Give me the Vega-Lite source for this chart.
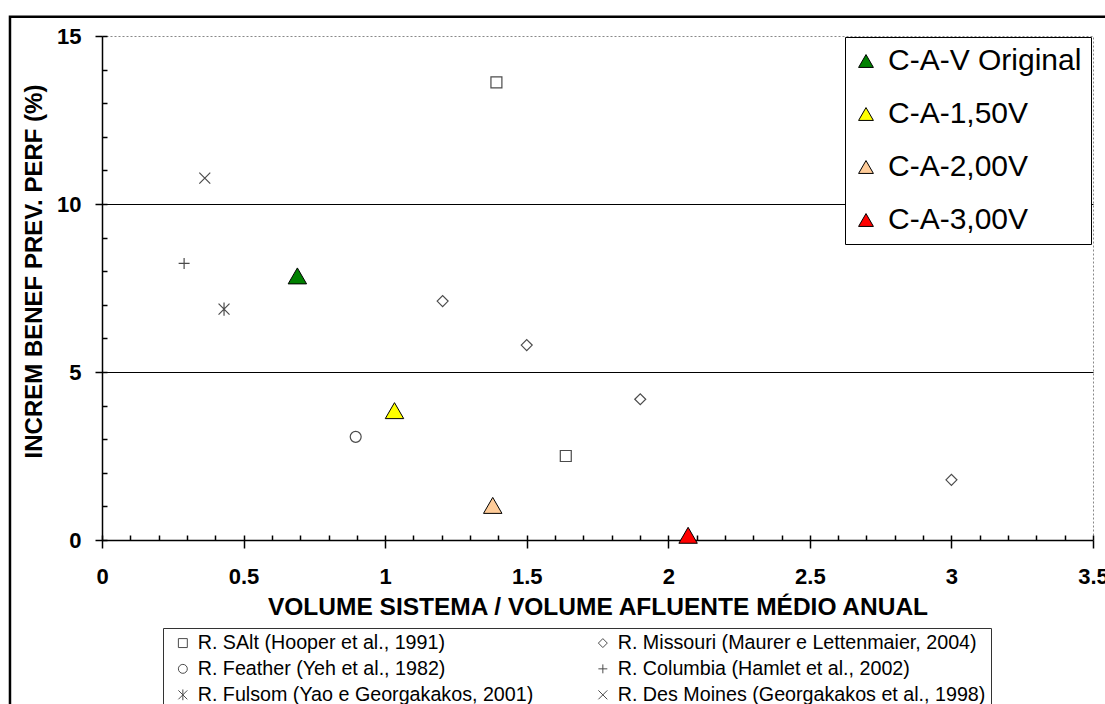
{
  "$schema": "https://vega.github.io/schema/vega-lite/v6.json",
  "width": 991,
  "height": 504,
  "autosize": {"type": "none"},
  "padding": {"left": 102, "top": 36, "right": 12, "bottom": 164},
  "background": "white",
  "config": {
    "font": "Liberation Sans",
    "view": {"stroke": "#888888", "strokeDash": [2, 2], "strokeWidth": 1},
    "axis": {
      "labelFont": "Liberation Sans",
      "labelFontWeight": "bold",
      "labelFontSize": 22,
      "labelColor": "black",
      "titleFont": "Liberation Sans",
      "titleFontWeight": "bold",
      "titleFontSize": 24,
      "titleColor": "black",
      "domainColor": "black",
      "domainWidth": 1.5,
      "tickColor": "black",
      "tickWidth": 1.5,
      "grid": false,
      "labelFlush": false,
      "labelOverlap": false
    }
  },
  "datasets": {
    "studies": [
      {"study": "R. SAlt (Hooper et al., 1991)", "v": 1.393, "b": 13.62},
      {"study": "R. SAlt (Hooper et al., 1991)", "v": 1.638, "b": 2.50},
      {"study": "R. Missouri (Maurer e Lettenmaier, 2004)", "v": 1.203, "b": 7.11},
      {"study": "R. Missouri (Maurer e Lettenmaier, 2004)", "v": 1.50, "b": 5.80},
      {"study": "R. Missouri (Maurer e Lettenmaier, 2004)", "v": 1.901, "b": 4.19},
      {"study": "R. Missouri (Maurer e Lettenmaier, 2004)", "v": 3.0, "b": 1.79},
      {"study": "R. Feather (Yeh et al., 1982)", "v": 0.896, "b": 3.07},
      {"study": "R. Columbia (Hamlet et al., 2002)", "v": 0.290, "b": 8.23},
      {"study": "R. Fulsom (Yao e Georgakakos, 2001)", "v": 0.431, "b": 6.87},
      {"study": "R. Des Moines (Georgakakos et al., 1998)", "v": 0.363, "b": 10.77}
    ],
    "scenarios": [
      {"cenario": "C-A-V Original", "v": 0.690, "b": 7.86},
      {"cenario": "C-A-1,50V", "v": 1.033, "b": 3.85},
      {"cenario": "C-A-2,00V", "v": 1.380, "b": 1.03},
      {"cenario": "C-A-3,00V", "v": 2.070, "b": 0.14}
    ]
  },
  "layer": [
    {
      "data": {"values": [{}]},
      "mark": {"type": "rect", "fill": null, "fillOpacity": 0, "stroke": "black", "strokeWidth": 2.5, "clip": false},
      "encoding": {
        "x": {"datum": -0.325, "type": "quantitative", "scale": {"domain": [0, 3.5], "nice": false, "zero": false}, "axis": null},
        "x2": {"datum": 3.9},
        "y": {"datum": 15.57, "type": "quantitative", "scale": {"domain": [0, 15], "nice": false, "zero": false},
              "axis": {"orient": "left", "values": [5, 10], "grid": true, "gridColor": "black", "gridWidth": 1, "gridOpacity": 1, "ticks": false, "labels": false, "domain": false, "title": null}},
        "y2": {"datum": -8}
      }
    },
    {
      "data": {"name": "studies"},
      "mark": {"type": "point", "filled": false, "color": "black", "strokeWidth": 1.2, "size": 120},
      "encoding": {
        "x": {"field": "v", "type": "quantitative", "scale": {"domain": [0, 3.5], "nice": false, "zero": false},
              "axis": {"orient": "bottom", "values": [0, 0.5, 1, 1.5, 2, 2.5, 3, 3.5], "format": "~g", "tickSize": 8, "labelPadding": 18, "title": "VOLUME SISTEMA / VOLUME AFLUENTE MÉDIO ANUAL", "titleFontSize": 24.5, "titlePadding": 8}},
        "y": {"field": "b", "type": "quantitative", "scale": {"domain": [0, 15], "nice": false, "zero": false},
              "axis": {"orient": "left", "values": [0, 5, 10, 15], "format": "~g", "tickSize": 7, "labelPadding": 14, "title": "INCREM BENEF PREV. PERF (%)", "titlePadding": 10, "titleY": 235}},
        "shape": {
          "field": "study",
          "type": "nominal",
          "scale": {
            "domain": [
              "R. SAlt (Hooper et al., 1991)",
              "R. Feather (Yeh et al., 1982)",
              "R. Fulsom (Yao e Georgakakos, 2001)",
              "R. Missouri (Maurer e Lettenmaier, 2004)",
              "R. Columbia (Hamlet et al., 2002)",
              "R. Des Moines (Georgakakos et al., 1998)"
            ],
            "range": ["square", "circle", "M-1,-1L1,1M-1,1L1,-1M0,-1.2L0,1.2", "diamond", "M-1,0L1,0M0,-1L0,1", "M-1,-1L1,1M-1,1L1,-1"]
          },
          "legend": {
            "orient": "none",
            "legendX": 61,
            "legendY": 592,
            "columns": 2,
            "title": null,
            "labelFont": "Liberation Sans",
            "labelFontSize": 19.7,
            "labelColor": "black",
            "labelLimit": 0,
            "labelOffset": 5,
            "symbolOffset": 5,
            "symbolSize": 80,
            "symbolStrokeColor": "black",
            "symbolStrokeWidth": 1,
            "padding": 5,
            "rowPadding": 5,
            "columnPadding": 54,
            "strokeColor": "#333333",
            "fillColor": "white"
          }
        }
      }
    },
    {
      "data": {"name": "scenarios"},
      "mark": {"type": "point", "shape": "triangle-up", "filled": true, "stroke": "black", "strokeWidth": 1, "size": 340, "opacity": 1},
      "encoding": {
        "x": {"field": "v", "type": "quantitative", "scale": {"domain": [0, 3.5], "nice": false, "zero": false},
              "axis": {"orient": "bottom", "values": [0, 0.1, 0.2, 0.3, 0.4, 0.5, 0.6, 0.7, 0.8, 0.9, 1, 1.1, 1.2, 1.3, 1.4, 1.5, 1.6, 1.7, 1.8, 1.9, 2, 2.1, 2.2, 2.3, 2.4, 2.5, 2.6, 2.7, 2.8, 2.9, 3, 3.1, 3.2, 3.3, 3.4, 3.5], "tickSize": -5, "labels": false, "domain": false, "title": null}},
        "y": {"field": "b", "type": "quantitative", "scale": {"domain": [0, 15], "nice": false, "zero": false},
              "axis": {"orient": "left", "values": [0, 1, 2, 3, 4, 5, 6, 7, 8, 9, 10, 11, 12, 13, 14, 15], "tickSize": -5, "labels": false, "domain": false, "title": null}},
        "fill": {
          "field": "cenario",
          "type": "nominal",
          "scale": {"domain": ["C-A-V Original", "C-A-1,50V", "C-A-2,00V", "C-A-3,00V"], "range": ["#008000", "#FFFF00", "#FFCC99", "#FF0000"]},
          "legend": {
            "orient": "none",
            "legendX": 743,
            "legendY": 1,
            "title": null,
            "symbolType": "triangle-up",
            "symbolSize": 220,
            "symbolStrokeColor": "black",
            "symbolStrokeWidth": 1,
            "symbolOpacity": 1,
            "labelFont": "Liberation Sans",
            "labelFontSize": 30,
            "labelColor": "black",
            "labelLimit": 0,
            "labelOffset": 7,
            "symbolOffset": -3,
            "padding": 9,
            "rowPadding": 23,
            "strokeColor": "black",
            "fillColor": "white"
          }
        }
      }
    }
  ],
  "resolve": {"axis": {"x": "independent", "y": "independent"}}
}
